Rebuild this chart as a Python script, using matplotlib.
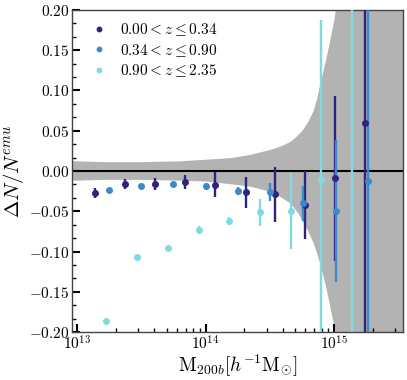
import numpy as np
import matplotlib
matplotlib.use("Agg")
import matplotlib.pyplot as plt
from matplotlib.lines import Line2D
from matplotlib.ticker import AutoMinorLocator, FuncFormatter, LogLocator

plt.rcParams["mathtext.fontset"] = "cm"
plt.rcParams["font.family"] = "serif"
plt.rcParams["font.serif"] = ["cmr10", "DejaVu Serif"]
plt.rcParams["axes.formatter.use_mathtext"] = True

colors = {
    "low": "#30237f",
    "mid": "#3b8bcb",
    "high": "#80dae2",
    "band": "#b3b3b3",
}

# 0.00 < z <= 0.34
low_logm = [13.135, 13.369, 13.603, 13.837, 14.073, 14.312, 14.543, 14.777, 15.011, 15.239]
low_frac = [-0.027, -0.0165, -0.016, -0.0137, -0.017, -0.0265, -0.029, -0.042, -0.009, 0.060]
low_err = [0.006, 0.006, 0.007, 0.0087, 0.0155, 0.019, 0.034, 0.042, 0.1025, 0.5]

# 0.34 < z <= 0.90
mid_logm = [13.244, 13.496, 13.750, 14.002, 14.254, 14.505, 14.758, 15.015, 15.262]
mid_frac = [-0.0236, -0.0186, -0.0158, -0.019, -0.025, -0.0265, -0.040, -0.0497, -0.0124]
mid_err = [0.0015, 0.0018, 0.0025, 0.004, 0.005, 0.011, 0.022, 0.088, 0.5]

# 0.90 < z <= 2.35
high_logm = [13.224, 13.465, 13.704, 13.945, 14.184, 14.425, 14.662, 14.901, 15.143]
high_frac = [-0.186, -0.1068, -0.0957, -0.0735, -0.062, -0.0513, -0.050, -0.011, -0.30]
high_err = [0.002, 0.002, 0.002, 0.005, 0.005, 0.0168, 0.047, 0.198, 1.0]

# emulator uncertainty band
band_logm = [12.9, 13.2, 13.5, 13.8, 14.0, 14.2, 14.35, 14.5, 14.58, 14.66, 14.72, 14.76,
             14.8, 14.84, 14.87, 14.89, 14.92, 14.95, 14.975, 15.0, 15.03, 15.1, 15.6]
band_hi = [0.0125, 0.011, 0.011, 0.012, 0.014, 0.016, 0.020, 0.026, 0.030, 0.036, 0.044, 0.051,
           0.061, 0.074, 0.090, 0.105, 0.125, 0.146, 0.165, 0.185, 0.215, 0.3, 1.0]
band_lo = [-0.0125, -0.011, -0.011, -0.012, -0.013, -0.0165, -0.0195, -0.0257, -0.032, -0.040, -0.052, -0.063,
           -0.075, -0.089, -0.103, -0.114, -0.132, -0.152, -0.172, -0.19, -0.215, -0.3, -1.0]

labels = [r"$0.00 < z \leq 0.34$", r"$0.34 < z \leq 0.90$", r"$0.90 < z \leq 2.35$"]

fig = plt.figure(figsize=(4.07, 3.80), dpi=100)
ax = fig.add_axes([0.177, 0.126, 0.813, 0.848])

band_m = 10 ** np.array(band_logm)
ax.fill_between(band_m, band_lo, band_hi, color=colors["band"], lw=0, zorder=1)
ax.axhline(0, color="black", lw=1.5, zorder=2)

series = [
    (low_logm, low_frac, low_err, colors["low"]),
    (mid_logm, mid_frac, mid_err, colors["mid"]),
    (high_logm, high_frac, high_err, colors["high"]),
]
for logm, frac, err, c in series:
    ax.errorbar(10 ** np.array(logm), frac, yerr=err, fmt="o", color=c,
                ms=4, elinewidth=1.7, capsize=0, zorder=3)

handles = [Line2D([], [], marker="o", ls="none", color=c, ms=3.2) for _, _, _, c in series]
ax.legend(handles, labels, loc="upper left", frameon=False, fontsize=11,
          handletextpad=0.4, borderaxespad=0.35, labelspacing=0.22)

ax.set_xscale("log")
ax.set_xlim(10 ** 12.96, 10 ** 15.537)
ax.set_ylim(-0.2, 0.2)
ax.xaxis.set_major_locator(LogLocator(base=10))
ax.xaxis.set_minor_locator(LogLocator(base=10, subs=np.arange(2, 10)))
ax.yaxis.set_major_locator(plt.MultipleLocator(0.05))
ax.yaxis.set_minor_locator(AutoMinorLocator(3))
ax.yaxis.set_major_formatter(FuncFormatter(lambda v, p: r"$%.2f$" % v))

ax.tick_params(which="both", direction="in", top=False, right=False, labelsize=11, pad=2)
ax.tick_params(which="major", length=6, width=1.5)
ax.tick_params(which="minor", length=3, width=1)
for s in ax.spines.values():
    s.set_color("#444444")
    s.set_linewidth(1)

ax.set_xlabel(r"$\mathrm{M}_{200b}[h^{-1}\mathrm{M}_{\odot}]$", fontsize=14, labelpad=0)
ax.set_ylabel(r"$\Delta N / N^{emu}$", fontsize=15, labelpad=2)

fig.savefig("out.png", dpi=100)
